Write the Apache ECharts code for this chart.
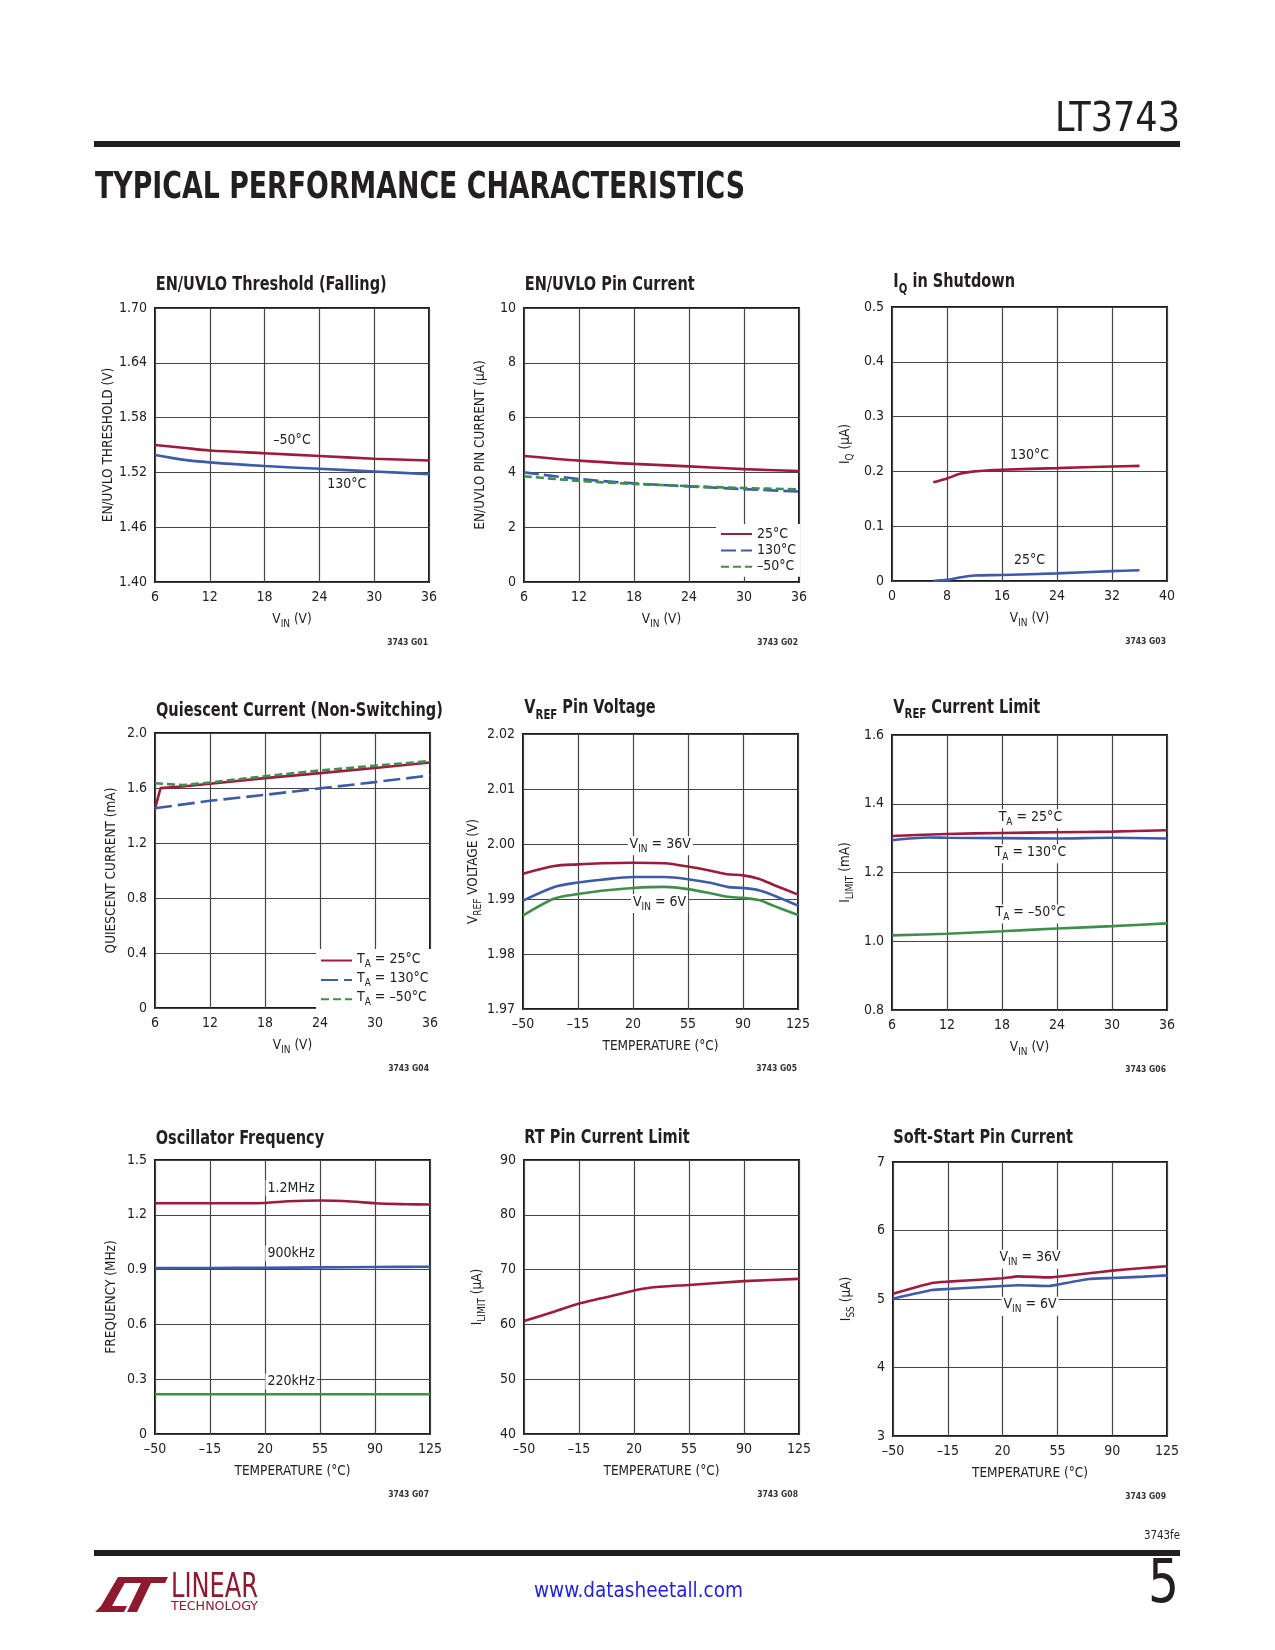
<!DOCTYPE html>
<html><head><meta charset="utf-8">
<script src="https://cdn.jsdelivr.net/npm/echarts@6/dist/echarts.min.js"></script>
<style>html,body{margin:0;padding:0;background:#fff}#c{width:1275px;height:1650px}</style>
</head><body><div id="c"></div>
<script>
// ---------------- DATA ----------------
// Chart 1: EN/UVLO Threshold (Falling)
const g1_vin = [6, 9, 12, 18, 24, 30, 36];
const g1_m50 = [1.550, 1.547, 1.544, 1.541, 1.538, 1.535, 1.533];
const g1_130 = [1.539, 1.534, 1.531, 1.527, 1.524, 1.521, 1.518];
const g1_labels = [[21, 1.5547, '\u201350°C'], [27, 1.5066, '130°C']];
// Chart 2: EN/UVLO Pin Current
const g2_vin = [6, 12, 18, 24, 30, 36];
const g2_25 = [4.60, 4.43, 4.31, 4.22, 4.12, 4.05];
const g2_130 = [4.00, 3.76, 3.60, 3.49, 3.39, 3.30];
const g2_m50 = [3.86, 3.69, 3.58, 3.50, 3.43, 3.38];
const g2_legend = ['25°C', '130°C', '\u201350°C'];
// Chart 3: IQ in Shutdown
const g3_vin = [6, 8, 10, 12, 16, 24, 32, 36];
const g3_130 = [0.180, 0.187, 0.196, 0.200, 0.203, 0.206, 0.209, 0.210];
const g3_25 = [0.000, 0.002, 0.0067, 0.010, 0.011, 0.014, 0.018, 0.0195];
const g3_labels = [[20, 0.229, '130°C'], [20, 0.0377, '25°C']];
// Chart 4: Quiescent Current (Non-Switching)
const g4_vin_25 = [6, 6.6, 9, 12, 18, 24, 30, 36];
const g4_25 = [1.448, 1.599, 1.611, 1.631, 1.672, 1.708, 1.745, 1.786];
const g4_vin_130 = [6, 12, 18, 24, 30, 36];
const g4_130 = [1.453, 1.507, 1.550, 1.597, 1.643, 1.691];
const g4_vin_m50 = [6, 9, 12, 18, 24, 30, 36];
const g4_m50 = [1.635, 1.621, 1.640, 1.686, 1.728, 1.762, 1.796];
const g4_legend = ['{n|T}{s|A}{n| = 25°C}', '{n|T}{s|A}{n| = 130°C}', '{n|T}{s|A}{n| = \u201350°C}'];
// Chart 5: VREF Pin Voltage
const g5_temp = [-50, -30, -15, 0, 20, 40, 55, 70, 80, 90, 100, 110, 125];
const g5_36 = [1.9946, 1.9960, 1.9963, 1.9965, 1.9966, 1.9965, 1.9959, 1.9951, 1.9945, 1.9943, 1.9937, 1.9925, 1.9908];
const g5_mid = [1.9897, 1.9922, 1.9930, 1.9935, 1.9940, 1.9940, 1.9936, 1.9929, 1.9922, 1.9920, 1.9916, 1.9906, 1.9888];
const g5_6 = [1.9870, 1.9901, 1.9909, 1.9915, 1.9920, 1.9922, 1.9918, 1.9910, 1.9904, 1.9902, 1.9898, 1.9887, 1.9871];
const g5_labels = [[37.3, 1.99967, '{n|V}{s|IN}{n| = 36V}'], [36.9, 1.98917, '{n|V}{s|IN}{n| = 6V}']];
// Chart 6: VREF Current Limit
const g6_vin = [6, 12, 18, 24, 30, 36];
const g6_25 = [1.306, 1.312, 1.315, 1.317, 1.319, 1.323];
const g6_vin_130 = [6, 10, 12, 18, 24, 30, 36];
const g6_130 = [1.294, 1.302, 1.301, 1.300, 1.299, 1.301, 1.299];
const g6_m50 = [1.017, 1.022, 1.029, 1.037, 1.044, 1.052];
const g6_labels = [[21.1, 1.3563, '{n|T}{s|A}{n| = 25°C}'], [21.1, 1.2544, '{n|T}{s|A}{n| = 130°C}'], [21.1, 1.0796, '{n|T}{s|A}{n| = \u201350°C}']];
// Chart 7: Oscillator Frequency
const g7_temp_12 = [-50, -15, 20, 35, 55, 75, 90, 110, 125];
const g7_12 = [1.263, 1.263, 1.265, 1.274, 1.278, 1.273, 1.263, 1.258, 1.256];
const g7_temp = [-50, -15, 20, 55, 90, 125];
const g7_900 = [0.908, 0.909, 0.910, 0.912, 0.914, 0.916];
const g7_220 = [0.218, 0.218, 0.218, 0.218, 0.218, 0.218];
const g7_labels = [[36.6, 1.347, '1.2MHz'], [36.6, 0.9885, '900kHz'], [36.6, 0.2876, '220kHz']];
// Chart 8: RT Pin Current Limit
const g8_temp = [-50, -30, -15, 0, 20, 30, 55, 90, 125];
const g8_ilim = [60.6, 62.4, 63.8, 64.8, 66.2, 66.7, 67.2, 67.9, 68.3];
// Chart 9: Soft-Start Pin Current
const g9_temp = [-50, -25, -15, 20, 30, 50, 55, 75, 90, 110, 125];
const g9_36 = [5.078, 5.234, 5.253, 5.302, 5.331, 5.316, 5.326, 5.375, 5.414, 5.453, 5.477];
const g9_6 = [5.005, 5.131, 5.146, 5.190, 5.200, 5.190, 5.209, 5.292, 5.307, 5.326, 5.345];
const g9_labels = [[37.5, 5.579, '{n|V}{s|IN}{n| = 36V}'], [37.5, 4.893, '{n|V}{s|IN}{n| = 6V}']];

const titles = ['EN/UVLO Threshold (Falling)', 'EN/UVLO Pin Current', '{t|I}{ts|Q}{t| in Shutdown}',
  'Quiescent Current (Non-Switching)', '{t|V}{ts|REF}{t| Pin Voltage}', '{t|V}{ts|REF}{t| Current Limit}',
  'Oscillator Frequency', 'RT Pin Current Limit', 'Soft-Start Pin Current'];
const figIds = ['3743 G01','3743 G02','3743 G03','3743 G04','3743 G05','3743 G06','3743 G07','3743 G08','3743 G09'];

// ---------------- STYLE ----------------
const RED = '#9d1c3d', BLUE = '#3e5ba8', GREEN = '#3f8e4c', INK = '#231f20', GRIDC = '#454545', TXT = '#222';
const NF = "'Liberation Sans Narrow','Arial Narrow','DejaVu Sans Condensed',sans-serif";
const RICH = {
  n: {fontFamily: NF, fontSize: 14, color: TXT, verticalAlign: 'bottom', padding: [0, 0, 3, 0]},
  s: {fontFamily: NF, fontSize: 10, color: TXT, verticalAlign: 'bottom'}
};
const AXRICH = {
  n: {fontFamily: NF, fontSize: 13.5, color: TXT, verticalAlign: 'bottom', padding: [0, 0, 3, 0]},
  s: {fontFamily: NF, fontSize: 10, color: TXT, verticalAlign: 'bottom'}
};

const grids = [
  {left: 155, top: 308, width: 274, height: 274},
  {left: 524, top: 308, width: 275, height: 274},
  {left: 892, top: 307, width: 275, height: 274},
  {left: 155, top: 733, width: 275, height: 275},
  {left: 523, top: 734, width: 275, height: 275},
  {left: 892, top: 735, width: 275, height: 275},
  {left: 155, top: 1160, width: 275, height: 274},
  {left: 524, top: 1160, width: 275, height: 274},
  {left: 893, top: 1162, width: 274, height: 274}
].map(g => Object.assign({show: true, borderColor: '#1a1a1a', borderWidth: 2, backgroundColor: 'transparent'}, g));

const dash = v => v < 0 ? '\u2013' + (-v) : String(v);
const VIN = '{n|V}{s|IN}{n| (V)}';
const TEMP = 'TEMPERATURE (°C)';

function xAx(g, min, max, step, name) {
  return {type: 'value', gridIndex: g, min, max, interval: step, name, nameLocation: 'middle', nameGap: 30,
    nameTextStyle: {fontFamily: NF, fontSize: 13.5, color: TXT, rich: AXRICH},
    axisLine: {show: false}, axisTick: {show: false},
    splitLine: {show: true, lineStyle: {color: GRIDC, width: 1.2}},
    axisLabel: {margin: 8, fontFamily: NF, fontSize: 14, color: TXT, formatter: dash}};
}
function yAx(g, min, max, step, dec, name) {
  return {type: 'value', gridIndex: g, min, max, interval: step, name, nameLocation: 'middle', nameGap: 37,
    nameTextStyle: {fontFamily: NF, fontSize: 13.5, color: TXT, rich: AXRICH},
    axisLine: {show: false}, axisTick: {show: false},
    splitLine: {show: true, lineStyle: {color: GRIDC, width: 1.2}},
    axisLabel: {margin: 8, fontFamily: NF, fontSize: 14, color: TXT,
      formatter: v => (Math.abs(v) < 1e-9 ? '0' : v.toFixed(dec))}};
}

const xAxes = [
  xAx(0, 6, 36, 6, VIN), xAx(1, 6, 36, 6, VIN), xAx(2, 0, 40, 8, VIN),
  xAx(3, 6, 36, 6, VIN), xAx(4, -50, 125, 35, TEMP), xAx(5, 6, 36, 6, VIN),
  xAx(6, -50, 125, 35, TEMP), xAx(7, -50, 125, 35, TEMP), xAx(8, -50, 125, 35, TEMP)
];
const yAxes = [
  yAx(0, 1.40, 1.70, 0.06, 2, 'EN/UVLO THRESHOLD (V)'),
  yAx(1, 0, 10, 2, 0, 'EN/UVLO PIN CURRENT (µA)'),
  yAx(2, 0, 0.5, 0.1, 1, '{n|I}{s|Q}{n| (µA)}'),
  yAx(3, 0, 2.0, 0.4, 1, 'QUIESCENT CURRENT (mA)'),
  yAx(4, 1.97, 2.02, 0.01, 2, '{n|V}{s|REF}{n| VOLTAGE (V)}'),
  yAx(5, 0.8, 1.6, 0.2, 1, '{n|I}{s|LIMIT}{n| (mA)}'),
  yAx(6, 0, 1.5, 0.3, 1, 'FREQUENCY (MHz)'),
  yAx(7, 40, 90, 10, 0, '{n|I}{s|LIMIT}{n| (µA)}'),
  yAx(8, 3, 7, 1, 0, '{n|I}{s|SS}{n| (µA)}')
];

function ln(g, name, xs, ys, color, type, smooth) {
  return {type: 'line', name, xAxisIndex: g, yAxisIndex: g, data: xs.map((x, k) => [x, ys[k]]),
    symbol: 'none', showSymbol: false, smooth: smooth === undefined ? 0.3 : smooth,
    lineStyle: {color, width: 2.6, type: type || 'solid'}, itemStyle: {color},
    silent: true, animation: false, z: 3};
}
function withLabels(s, pts) {
  s.markPoint = {symbol: 'circle', symbolSize: 0, silent: true, animation: false,
    label: {show: true, position: 'inside', color: TXT, fontFamily: NF, fontSize: 14,
      backgroundColor: '#fff', padding: [1, 2, 1, 2], rich: RICH},
    data: pts.map(p => ({coord: [p[0], p[1]], value: 0, label: {formatter: p[2]}}))};
  return s;
}

const series = [
  withLabels(ln(0, 'g1 -50', g1_vin, g1_m50, RED), g1_labels),
  ln(0, 'g1 130', g1_vin, g1_130, BLUE),
  ln(1, 'g2 25', g2_vin, g2_25, RED),
  ln(1, 'g2 130', g2_vin, g2_130, BLUE, [15, 5]),
  ln(1, 'g2 -50', g2_vin, g2_m50, GREEN, [8, 4]),
  withLabels(ln(2, 'g3 130', g3_vin, g3_130, RED), g3_labels),
  ln(2, 'g3 25', g3_vin, g3_25, BLUE),
  ln(3, 'g4 25', g4_vin_25, g4_25, RED, 'solid', false),
  ln(3, 'g4 130', g4_vin_130, g4_130, BLUE, [17, 6], false),
  ln(3, 'g4 -50', g4_vin_m50, g4_m50, GREEN, [8, 4], false),
  withLabels(ln(4, 'g5 36', g5_temp, g5_36, RED), g5_labels),
  ln(4, 'g5 mid', g5_temp, g5_mid, BLUE),
  ln(4, 'g5 6', g5_temp, g5_6, GREEN),
  withLabels(ln(5, 'g6 25', g6_vin, g6_25, RED), g6_labels),
  ln(5, 'g6 130', g6_vin_130, g6_130, BLUE),
  ln(5, 'g6 -50', g6_vin, g6_m50, GREEN),
  withLabels(ln(6, 'g7 1.2', g7_temp_12, g7_12, RED), g7_labels),
  ln(6, 'g7 900', g7_temp, g7_900, BLUE),
  ln(6, 'g7 220', g7_temp, g7_220, GREEN),
  ln(7, 'g8', g8_temp, g8_ilim, RED, 'solid', 0.2),
  withLabels(ln(8, 'g9 36', g9_temp, g9_36, RED, 'solid', 0.15), g9_labels),
  ln(8, 'g9 6', g9_temp, g9_6, BLUE, 'solid', 0.15)
];

const legendNames = {'g2 25': g2_legend[0], 'g2 130': g2_legend[1], 'g2 -50': g2_legend[2],
  'g4 25': g4_legend[0], 'g4 130': g4_legend[1], 'g4 -50': g4_legend[2]};
function leg(left, top, names) {
  return {show: true, orient: 'vertical', left, top, itemWidth: 31, itemHeight: 14, itemGap: 2.4,
    padding: [3, 4, 3, 4], backgroundColor: '#fff', selectedMode: false, data: names,
    formatter: n => legendNames[n], itemStyle: {opacity: 0},
    textStyle: {fontFamily: NF, fontSize: 14, color: TXT, rich: RICH}, z: 2};
}
const legends = [leg(716, 524, ['g2 25', 'g2 130', 'g2 -50']), leg(316, 949, ['g4 25', 'g4 130', 'g4 -50'])];

// ---------------- PAGE TEXT ----------------
const cv = document.createElement('canvas').getContext('2d');
function tw(text, font) { cv.font = font; return cv.measureText(text).width; }
function txt(text, x, y, font, align, fill, sx) {
  return {type: 'text', x, y, scaleX: sx || 1, silent: true,
    style: {text, font, fill: fill || INK, align: align || 'left', verticalAlign: 'middle',
      textAlign: align || 'left', textVerticalAlign: 'middle'}};
}
function fit(text, x, y, font, target, align, fill) { return txt(text, x, y, font, align, fill, target / tw(text, font)); }

const TFONT = 'bold 20px ' + NF;
const tScale = 231 / tw(titles[0], TFONT);
const titlePos = [[155.7, 285], [524.7, 285], [893.3, 285], [156, 711], [524.3, 711], [893.3, 710.5], [155.7, 1138.5], [524.3, 1138], [893.3, 1138]];
const TRICH = {
  t: {fontFamily: NF, fontWeight: 'bold', fontSize: 20, fill: INK, verticalAlign: 'bottom', padding: [0, 0, 4, 0]},
  ts: {fontFamily: NF, fontWeight: 'bold', fontSize: 14, fill: INK, verticalAlign: 'bottom'}
};
const graphics = [];
titles.forEach((t, i) => {
  const rich = t.indexOf('{') === 0;
  const el = txt(t, titlePos[i][0], titlePos[i][1] + (rich ? -1 : 0), TFONT, 'left', INK, tScale);
  if (rich) el.style.rich = TRICH;
  graphics.push(el);
});
const idPos = [[428, 643], [798, 643], [1166, 642], [429, 1069], [797, 1069], [1166, 1070], [429, 1495], [798, 1495], [1166, 1496.5]];
figIds.forEach((t, i) => graphics.push(txt(t, idPos[i][0], idPos[i][1], 'bold 8.5px ' + NF, 'right', '#333')));

// header
graphics.push({type: 'rect', silent: true, shape: {x: 94, y: 141, width: 1086, height: 6}, style: {fill: INK}});
graphics.push(fit('LT3743', 1180, 121, '40px ' + NF, 125, 'right'));
graphics.push(fit('TYPICAL PERFORMANCE CHARACTERISTICS', 95, 188, "bold 38px 'DejaVu Sans Condensed','DejaVu Sans',sans-serif", 650, 'left'));
// footer
graphics.push(fit('3743fe', 1180, 1536, '12px ' + NF, 36, 'right'));
graphics.push({type: 'rect', silent: true, shape: {x: 94, y: 1550, width: 1086, height: 6}, style: {fill: INK}});
graphics.push(fit('5', 1179, 1586, '60px ' + NF, 31, 'right'));
graphics.push(fit('www.datasheetall.com', 534, 1591, '22px ' + NF, 209, 'left', '#1f1fe6'));
const LOGO = '#8e1a30';
graphics.push({type: 'polygon', silent: true, shape: {points: [[95, 1612], [124, 1612], [127, 1606], [112, 1606], [128, 1577], [118, 1577], [101, 1606]]}, style: {fill: LOGO}});
graphics.push({type: 'polygon', silent: true, shape: {points: [[121, 1577], [168, 1577], [165, 1583], [151, 1583], [137, 1612], [127, 1612], [141, 1583], [118, 1583]]}, style: {fill: LOGO}});
graphics.push(fit('LINEAR', 171, 1588, '34px ' + NF, 87, 'left', LOGO));
graphics.push(fit('TECHNOLOGY', 171, 1607, '12px ' + NF, 87, 'left', LOGO));

const chart = echarts.init(document.getElementById('c'), null, {renderer: 'canvas'});
chart.setOption({
  animation: false,
  backgroundColor: '#fff',
  grid: grids,
  xAxis: xAxes,
  yAxis: yAxes,
  legend: legends,
  series,
  graphic: graphics
});
</script></body></html>
